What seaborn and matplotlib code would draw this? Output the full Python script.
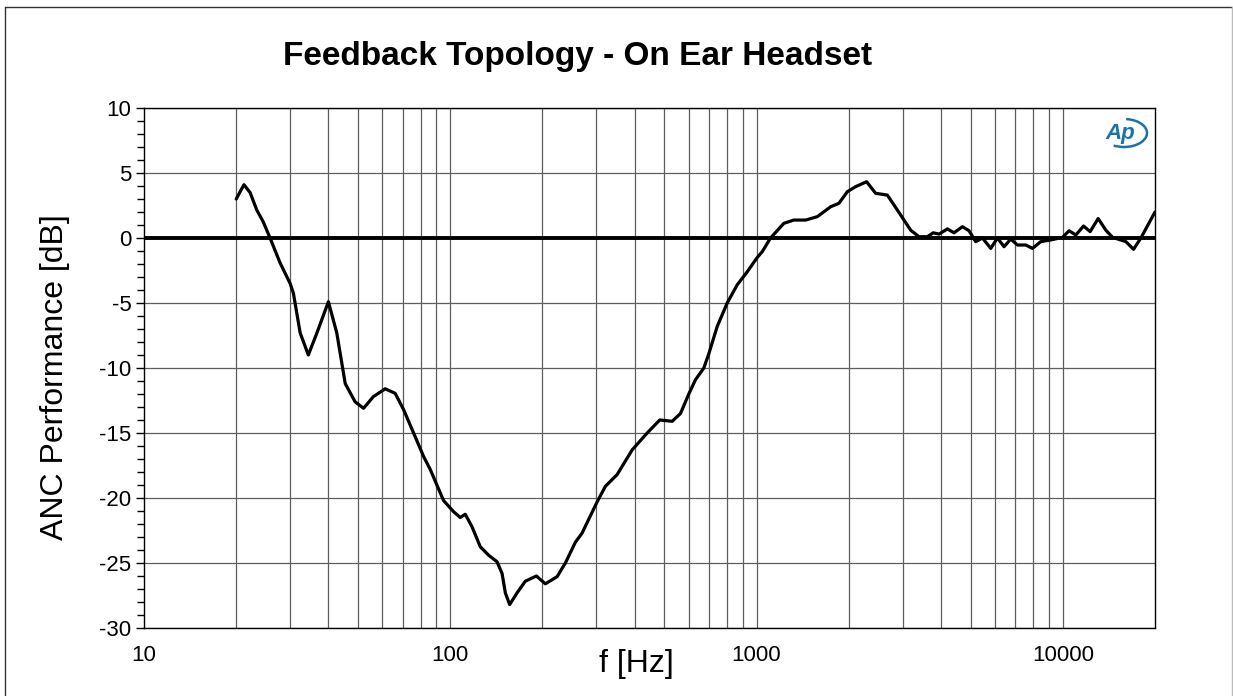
import numpy as np
import pandas as pd
import matplotlib
matplotlib.use("Agg")
import matplotlib.pyplot as plt
from matplotlib.patches import Arc
from matplotlib.lines import Line2D
import seaborn as sns

# ---- data ----
freq_hz = [20.0, 21.2, 22.2, 23.35, 24.5, 25.8, 27.8, 30.0, 30.75, 32.35,
           34.4, 36.7, 40.0, 42.6, 45.4, 48.9, 52.1, 56.1, 61.3, 66.1,
           70.4, 75.9, 81.8, 86.0, 95.1, 102.5, 107.8, 111.9, 117.7, 125.3,
           133.4, 142.1, 147.6, 151.3, 156.3, 165.2, 175.8, 191.0, 204.4, 223.3,
           237.6, 256.2, 269.4, 301.6, 321.0, 350.6, 392.6, 439.4, 483.1, 530.3,
           564.5, 600.9, 632.0, 672.8, 698.6, 744.1, 802.1, 864.9, 932.5, 1005,
           1044, 1111, 1228, 1324, 1446, 1579, 1745, 1858, 1979, 2106,
           2288, 2448, 2674, 2883, 3187, 3392, 3613, 3775, 3943, 4200,
           4413, 4701, 4941, 5196, 5465, 5817, 6117, 6431, 6762, 7112,
           7570, 7961, 8475, 9137, 9978, 10486, 11028, 11687, 12283, 13046,
           13820, 14537, 16068, 17022, 17984, 20000]
anc_db = [3.0, 4.1, 3.5, 2.15, 1.25, 0.0, -1.9, -3.5, -4.25, -7.3,
          -9.0, -7.3, -4.9, -7.3, -11.2, -12.6, -13.1, -12.2, -11.6, -11.95,
          -13.2, -15.0, -16.8, -17.8, -20.2, -21.05, -21.5, -21.25, -22.2, -23.75,
          -24.4, -24.9, -25.8, -27.3, -28.2, -27.3, -26.4, -26.0, -26.6, -26.05,
          -25.0, -23.4, -22.7, -20.3, -19.1, -18.2, -16.3, -15.0, -14.0, -14.1,
          -13.5, -12.0, -10.9, -10.0, -8.9, -6.8, -5.0, -3.6, -2.6, -1.5,
          -1.05, 0.0, 1.13, 1.38, 1.38, 1.64, 2.4, 2.67, 3.56, 3.95,
          4.33, 3.44, 3.3, 2.15, 0.6, 0.1, 0.1, 0.4, 0.3, 0.7,
          0.4, 0.87, 0.56, -0.28, 0.0, -0.8, 0.0, -0.67, -0.08, -0.54,
          -0.54, -0.8, -0.28, -0.15, 0.05, 0.56, 0.23, 0.92, 0.49, 1.5,
          0.6, 0.05, -0.28, -0.87, 0.0, 2.0]

x_tick_values = [10, 100, 1000, 10000]
x_tick_labels = ["10", "100", "1000", "10000"]
y_tick_values = [-30, -25, -20, -15, -10, -5, 0, 5, 10]
y_tick_labels = ["-30", "-25", "-20", "-15", "-10", "-5", "0", "5", "10"]
x_minor_grid = [20, 30, 40, 50, 60, 70, 80, 90,
                200, 300, 400, 500, 600, 700, 800, 900,
                2000, 3000, 4000, 5000, 6000, 7000, 8000, 9000]

title_text = "Feedback Topology - On Ear Headset"
x_label = "f [Hz]"
y_label = "ANC Performance [dB]"

# ---- styling ----
sns.set_style("white")
plt.rcParams["font.family"] = ["Liberation Sans", "DejaVu Sans"]
plt.rcParams["text.color"] = "black"
plt.rcParams["xtick.color"] = "black"
plt.rcParams["ytick.color"] = "black"
plt.rcParams["axes.labelcolor"] = "black"

W, H = 1233, 696
fig = plt.figure(figsize=(W / 100, H / 100), dpi=100)
ax = fig.add_axes([144 / W, 1 - 628 / H, (1155 - 144) / W, (628 - 108) / H])

df = pd.DataFrame({"freq": freq_hz, "dB": anc_db})

grid_col = "#5e5e5e"
for xv in x_minor_grid + x_tick_values[1:]:
    ax.axvline(xv, color=grid_col, lw=0.9, zorder=1)
for yv in y_tick_values:
    if yv != 0:
        ax.axhline(yv, color=grid_col, lw=0.9, zorder=1)
ax.axhline(0, color="black", lw=2.8, zorder=2)

sns.lineplot(data=df, x="freq", y="dB", ax=ax, color="black", lw=2.3, zorder=3)

ax.set_xscale("log")
ax.set_xlim(10, 20000)
ax.set_ylim(-30, 10)
ax.set_xticks(x_tick_values)
ax.set_xticklabels(x_tick_labels)
ax.xaxis.set_minor_locator(matplotlib.ticker.NullLocator())
ax.set_yticks(y_tick_values)
ax.set_yticklabels(y_tick_labels)
ax.set_yticks(np.arange(-30, 11, 1), minor=True)
ax.tick_params(axis="y", which="major", direction="out", length=6, width=1,
               labelsize=16, pad=3, left=True, labelcolor="black")
ax.tick_params(axis="y", which="minor", direction="out", length=5, width=1, left=True)
ax.tick_params(axis="x", which="major", direction="out", length=0, labelsize=16,
               pad=12, labelcolor="black")
ax.set_xlabel("")
ax.set_ylabel("")
for s in ax.spines.values():
    s.set_color("black")
    s.set_linewidth(1.0)

fig.text(578 / W, 1 - 57 / H, title_text, ha="center", va="center",
         fontsize=24, fontweight="bold", color="black")
fig.text(636 / W, 1 - 664 / H, x_label, ha="center", va="center", fontsize=23,
         color="black")
fig.text(55 / W, 1 - 377 / H, y_label, ha="center", va="center",
         rotation=90, fontsize=23, color="black")

# AP logo
logo_col = "#1a72ad"
fig.text(1120 / W, 1 - 134 / H, "Ap", ha="center", va="center", fontsize=16,
         fontstyle="italic", fontweight="bold", color=logo_col)
arc = Arc((1124 / W, 1 - 133 / H), 46 / W, 28 / H, angle=0, theta1=-115, theta2=85,
          transform=fig.transFigure, color=logo_col, lw=1.8)
fig.add_artist(arc)

# figure border
fig.add_artist(Line2D([5 / W, 5 / W], [0, 1 - 7 / H], transform=fig.transFigure,
                      color="#333333", lw=1.0))
fig.add_artist(Line2D([5 / W, 1232 / W], [1 - 7 / H, 1 - 7 / H], transform=fig.transFigure,
                      color="#333333", lw=1.0))
fig.add_artist(Line2D([1232 / W, 1232 / W], [0, 1 - 7 / H], transform=fig.transFigure,
                      color="#bbbbbb", lw=1.0))

fig.savefig("out.png", dpi=100)
